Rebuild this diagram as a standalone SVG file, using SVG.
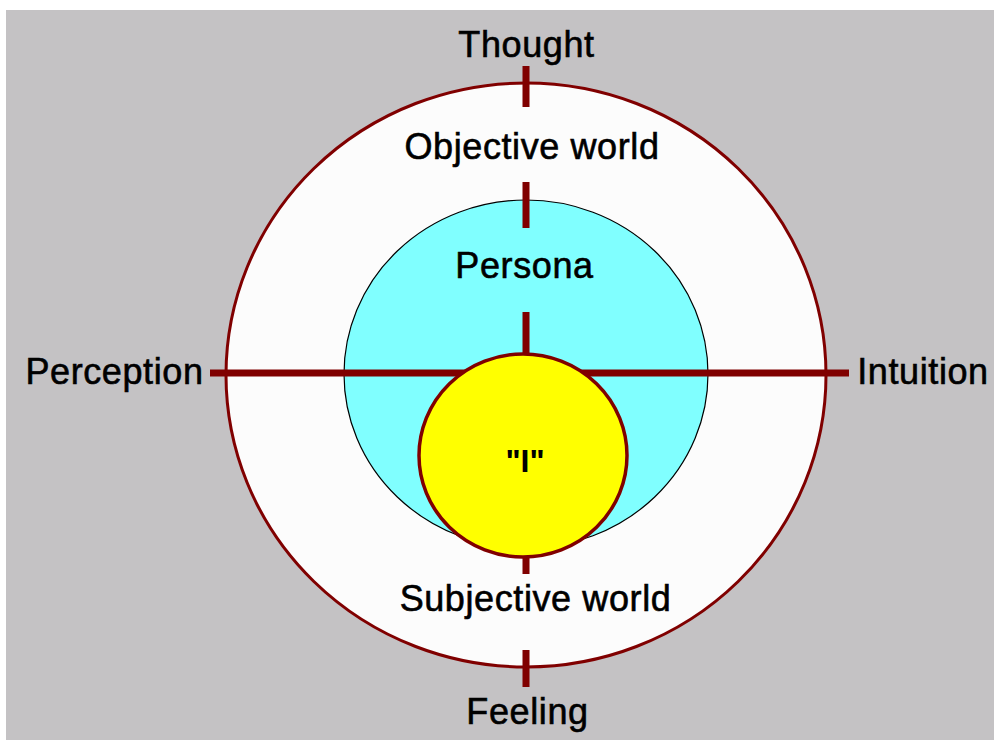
<svg xmlns="http://www.w3.org/2000/svg" width="994" height="740" viewBox="0 0 994 740">
<style>
.lbl{font-family:"Liberation Sans",Arial,sans-serif;font-size:36px;fill:#000;stroke:#000;stroke-width:0.6;text-anchor:middle;letter-spacing:0.6px}
.ax{stroke:#800000;stroke-width:7;fill:none}
</style>
<rect x="0" y="0" width="994" height="740" fill="#ffffff"/>
<rect x="6" y="10" width="988" height="730" fill="#c4c2c4"/>
<g id="objective-world">
<ellipse cx="526" cy="375" rx="300" ry="292" fill="#fcfcfc" stroke="#800000" stroke-width="3"/>
</g>
<g id="persona">
<ellipse cx="526" cy="374" rx="182" ry="174" fill="#80ffff" stroke="#000" stroke-width="1.2"/>
</g>
<g id="connectors">
<line class="ax" x1="210" y1="373" x2="849" y2="373"/>
<line class="ax" x1="526" y1="66" x2="526" y2="107"/>
<line class="ax" x1="526" y1="182" x2="526" y2="228"/>
<line class="ax" x1="526" y1="312" x2="526" y2="360"/>
<line class="ax" x1="526" y1="552" x2="526" y2="574"/>
<line class="ax" x1="526" y1="650" x2="526" y2="687"/>
</g>
<g id="ego">
<ellipse cx="523" cy="455.5" rx="104" ry="101.5" fill="#ffff00" stroke="#800000" stroke-width="3.5"/>
<text x="525" y="472" style="font-family:'Liberation Sans',Arial,sans-serif;font-size:32px;font-weight:bold;text-anchor:middle">"I"</text>
</g>
<g id="labels">
<text class="lbl" x="526.5" y="57">Thought</text>
<text class="lbl" x="532" y="159">Objective world</text>
<text class="lbl" x="524.5" y="278">Persona</text>
<text class="lbl" x="114.5" y="384">Perception</text>
<text class="lbl" x="923" y="384">Intuition</text>
<text class="lbl" x="535.5" y="611">Subjective world</text>
<text class="lbl" x="527.5" y="724">Feeling</text>
</g>
</svg>
